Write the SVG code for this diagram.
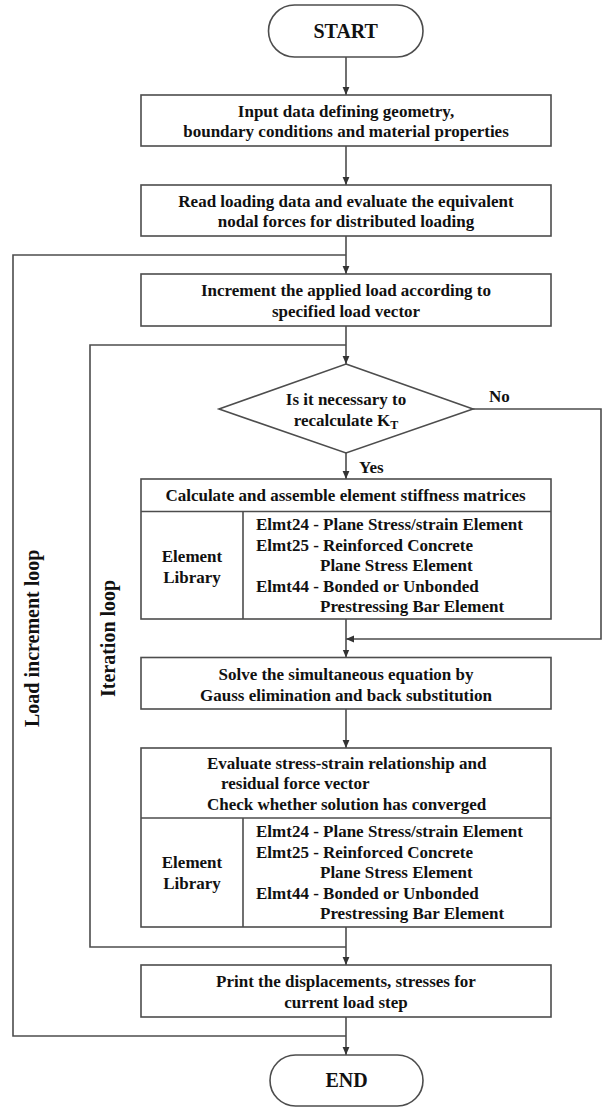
<svg xmlns="http://www.w3.org/2000/svg" width="605" height="1108" viewBox="0 0 605 1108">
<style>
.shape{fill:#fff;stroke:#4d4d4d;stroke-width:1.6}
.line{fill:none;stroke:#4d4d4d;stroke-width:1.6}
.t{font-family:"Liberation Serif","Times New Roman",serif;font-weight:bold;font-size:17px;fill:#111}
.c{text-anchor:middle}
.big{font-size:20px}
</style>
<defs>
<marker id="arr" markerWidth="8" markerHeight="8" viewBox="0 0 8 8" refX="8" refY="4" orient="auto" markerUnits="userSpaceOnUse">
<path d="M0,0.6 L8,4 L0,7.4 Z" fill="#333"/>
</marker>
</defs>
<rect width="605" height="1108" fill="#fff"/>

<g id="connectors">
<line class="line" x1="346" y1="57" x2="346" y2="95" marker-end="url(#arr)"/>
<line class="line" x1="346" y1="146" x2="346" y2="185" marker-end="url(#arr)"/>
<line class="line" x1="346" y1="236" x2="346" y2="274" marker-end="url(#arr)"/>
<polyline class="line" points="346,1036 13,1036 13,255 346,255"/>
<line class="line" x1="346" y1="326" x2="346" y2="364" marker-end="url(#arr)"/>
<polyline class="line" points="346,947 90,947 90,345 346,345"/>
<line class="line" x1="346" y1="453" x2="346" y2="479" marker-end="url(#arr)"/>
<polyline class="line" points="473,409 601,409 601,639 346,639" marker-end="url(#arr)"/>
<line class="line" x1="346" y1="619" x2="346" y2="657.5" marker-end="url(#arr)"/>
<line class="line" x1="346" y1="709" x2="346" y2="748" marker-end="url(#arr)"/>
<line class="line" x1="346" y1="927" x2="346" y2="965" marker-end="url(#arr)"/>
<line class="line" x1="346" y1="1017" x2="346" y2="1055" marker-end="url(#arr)"/>
<text class="t" x="489" y="401.5">No</text>
<text class="t" x="359" y="472.5">Yes</text>
<text class="t big" transform="translate(38.5,727) rotate(-90)">Load increment loop</text>
<text class="t big" transform="translate(115,697) rotate(-90)">Iteration loop</text>
</g>

<g id="start">
<rect class="shape" x="268.5" y="5" width="154.5" height="52" rx="26" ry="26"/>
<text class="t c big" x="345.7" y="38">START</text>
</g>

<g id="input">
<rect class="shape" x="141" y="95" width="410" height="51"/>
<text class="t c" x="346" y="117">Input data defining geometry,</text>
<text class="t c" x="346" y="137">boundary conditions and material properties</text>
</g>

<g id="read">
<rect class="shape" x="141" y="185" width="410" height="51"/>
<text class="t c" x="346" y="206.5">Read loading data and evaluate the equivalent</text>
<text class="t c" x="346" y="226.5">nodal forces for distributed loading</text>
</g>

<g id="increment">
<rect class="shape" x="141" y="274" width="410" height="52"/>
<text class="t c" x="346" y="296">Increment the applied load according to</text>
<text class="t c" x="346" y="316.5">specified load vector</text>
</g>

<g id="decision">
<polygon class="shape" points="346,364 473,409 346,453 219,409"/>
<text class="t c" x="346" y="405">Is it necessary to</text>
<text class="t c" x="346" y="425.5">recalculate K<tspan font-size="12" dy="3">T</tspan></text>
</g>

<g id="stiffness">
<rect class="shape" x="141" y="479" width="410" height="140"/>
<line class="line" x1="141" y1="511.5" x2="551" y2="511.5"/>
<line class="line" x1="243" y1="511.5" x2="243" y2="619"/>
<text class="t c" x="345.5" y="501">Calculate and assemble element stiffness matrices</text>
<text class="t c" x="192" y="562">Element</text>
<text class="t c" x="192" y="582.5">Library</text>
<text class="t" x="256" y="530">Elmt24 - Plane Stress/strain Element</text>
<text class="t" x="256" y="550.5">Elmt25 - Reinforced Concrete</text>
<text class="t" x="320" y="571">Plane Stress Element</text>
<text class="t" x="256" y="591.5">Elmt44 - Bonded or Unbonded</text>
<text class="t" x="320" y="612">Prestressing Bar Element</text>
</g>

<g id="solve">
<rect class="shape" x="141" y="657.5" width="410" height="51.5"/>
<text class="t c" x="346" y="680">Solve the simultaneous equation by</text>
<text class="t c" x="346" y="700.5">Gauss elimination and back substitution</text>
</g>

<g id="evaluate">
<rect class="shape" x="141" y="748" width="410" height="179"/>
<line class="line" x1="141" y1="818" x2="551" y2="818"/>
<line class="line" x1="243" y1="818" x2="243" y2="927"/>
<text class="t" x="207" y="769">Evaluate stress-strain relationship and</text>
<text class="t" x="221" y="789">residual force vector</text>
<text class="t" x="207" y="809.5">Check whether solution has converged</text>
<text class="t c" x="192" y="868">Element</text>
<text class="t c" x="192" y="888.5">Library</text>
<text class="t" x="256" y="837">Elmt24 - Plane Stress/strain Element</text>
<text class="t" x="256" y="857.5">Elmt25 - Reinforced Concrete</text>
<text class="t" x="320" y="878">Plane Stress Element</text>
<text class="t" x="256" y="898.5">Elmt44 - Bonded or Unbonded</text>
<text class="t" x="320" y="919">Prestressing Bar Element</text>
</g>

<g id="print">
<rect class="shape" x="141" y="965" width="410" height="52"/>
<text class="t c" x="346" y="987">Print the displacements, stresses for</text>
<text class="t c" x="346" y="1007.5">current load step</text>
</g>

<g id="end">
<rect class="shape" x="270" y="1055" width="153" height="51" rx="25.5" ry="25.5"/>
<text class="t c big" x="346.5" y="1087">END</text>
</g>
</svg>
